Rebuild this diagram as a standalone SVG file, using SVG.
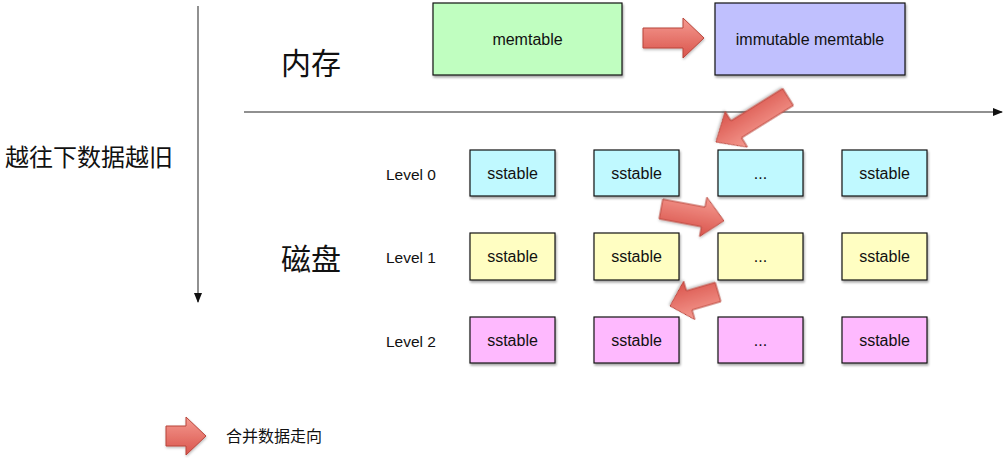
<svg xmlns="http://www.w3.org/2000/svg" width="1005" height="458" viewBox="0 0 1005 458">
<defs>
<style>
.box{stroke:#111;stroke-width:1.2;filter:url(#sh)}
.t{font-family:"Liberation Sans",Arial,sans-serif;font-size:16px;fill:#111;text-anchor:middle}
.lv{font-family:"Liberation Sans",Arial,sans-serif;font-size:15.5px;fill:#111}
.zh{font-family:"Noto Sans CJK SC","Liberation Sans",sans-serif;fill:#111}
.arr{fill:url(#rg);stroke:#b8443a;stroke-width:1;filter:url(#sh2)}
.l0{fill:#c0f9ff}.l1{fill:#fffec2}.l2{fill:#feb9fe}
</style>
<linearGradient id="rg" x1="0" y1="0" x2="0" y2="1">
<stop offset="0" stop-color="#f59a90"/>
<stop offset="1" stop-color="#d9544c"/>
</linearGradient>
<filter id="sh" x="-10%" y="-10%" width="130%" height="140%">
<feDropShadow dx="1" dy="2" stdDeviation="1.2" flood-color="#000" flood-opacity="0.35"/>
</filter>
<filter id="sh2" x="-20%" y="-20%" width="140%" height="160%">
<feDropShadow dx="0.5" dy="1.5" stdDeviation="1" flood-color="#000" flood-opacity="0.25"/>
</filter>
<marker id="ah" markerWidth="10" markerHeight="8" refX="9" refY="4" orient="auto" markerUnits="userSpaceOnUse">
<path d="M0,0 L10,4 L0,8 Z" fill="#111"/>
</marker>
</defs>
<rect width="1005" height="458" fill="#fff"/>

<g id="connectors">
<line x1="198" y1="6" x2="198" y2="302" stroke="#555" stroke-width="1.3" marker-end="url(#ah)"/>
<line x1="244" y1="112" x2="1002" y2="112" stroke="#222" stroke-width="1.2" marker-end="url(#ah)"/>
<polygon class="arr" points="643,28 683,28 683,18 704,38 683,58 683,48 643,48"/>
<path class="arr" transform="translate(788,97) rotate(148)" d="M0,-10 L61,-10 L61,-21 L85,0 L61,21 L61,10 L0,10 Z"/>
<path class="arr" transform="translate(661,209) rotate(10.6)" d="M0,-10 L43,-10 L43,-20 L64,0 L43,20 L43,10 L0,10 Z"/>
<path class="arr" transform="translate(718,292) rotate(163.7)" d="M0,-10 L30,-10 L30,-20 L50,0 L30,20 L30,10 L0,10 Z"/>
</g>

<g id="labels">
<text class="zh" x="5" y="166" font-size="24">越往下数据越旧</text>
<text class="zh" x="281" y="74" font-size="30">内存</text>
<text class="zh" x="281" y="270" font-size="30">磁盘</text>
<text class="lv" x="386" y="180">Level 0</text>
<text class="lv" x="386" y="263">Level 1</text>
<text class="lv" x="386" y="347">Level 2</text>
</g>

<g id="memtable"><rect class="box" x="433" y="3" width="189" height="72" fill="#c0fec0"/><text class="t" x="527.5" y="45">memtable</text></g>
<g id="immutable"><rect class="box" x="715" y="3" width="190" height="72" fill="#c0c0fe"/><text class="t" x="810" y="45">immutable memtable</text></g>

<g id="l0c0"><rect class="box l0" x="470" y="150" width="85" height="46"/><text class="t" x="512.5" y="179">sstable</text></g>
<g id="l0c1"><rect class="box l0" x="594" y="150" width="85" height="46"/><text class="t" x="636.5" y="179">sstable</text></g>
<g id="l0c2"><rect class="box l0" x="718" y="150" width="85" height="46"/><text class="t" x="760.5" y="179">...</text></g>
<g id="l0c3"><rect class="box l0" x="842" y="150" width="85" height="46"/><text class="t" x="884.5" y="179">sstable</text></g>

<g id="l1c0"><rect class="box l1" x="470" y="233" width="85" height="47"/><text class="t" x="512.5" y="262">sstable</text></g>
<g id="l1c1"><rect class="box l1" x="594" y="233" width="85" height="47"/><text class="t" x="636.5" y="262">sstable</text></g>
<g id="l1c2"><rect class="box l1" x="718" y="233" width="85" height="47"/><text class="t" x="760.5" y="262">...</text></g>
<g id="l1c3"><rect class="box l1" x="842" y="233" width="85" height="47"/><text class="t" x="884.5" y="262">sstable</text></g>

<g id="l2c0"><rect class="box l2" x="470" y="317" width="85" height="46"/><text class="t" x="512.5" y="346">sstable</text></g>
<g id="l2c1"><rect class="box l2" x="594" y="317" width="85" height="46"/><text class="t" x="636.5" y="346">sstable</text></g>
<g id="l2c2"><rect class="box l2" x="718" y="317" width="85" height="46"/><text class="t" x="760.5" y="346">...</text></g>
<g id="l2c3"><rect class="box l2" x="842" y="317" width="85" height="46"/><text class="t" x="884.5" y="346">sstable</text></g>

<g id="legend">
<polygon class="arr" points="166,426 186,426 186,417 206,436 186,455 186,446 166,446"/>
<text class="zh" x="226" y="442" font-size="16">合并数据走向</text>
</g>
</svg>
